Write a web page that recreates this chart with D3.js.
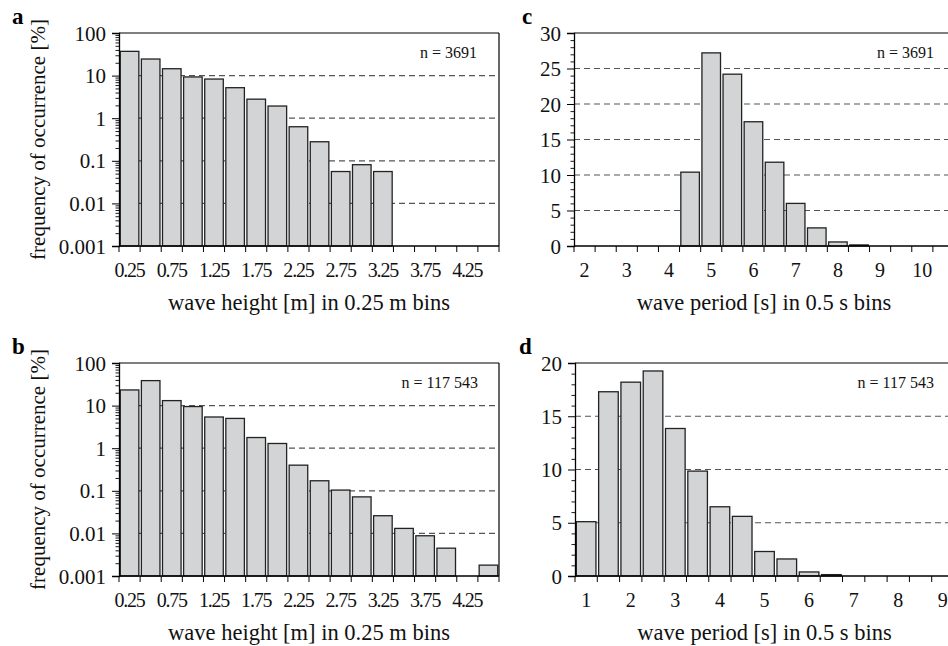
<!DOCTYPE html>
<html>
<head>
<meta charset="utf-8">
<script src="https://cdn.jsdelivr.net/npm/d3@7"></script>
<style>
  body { margin: 0; background: #fff; }
  text { font-family: "Liberation Serif", "DejaVu Serif", serif; }
</style>
</head>
<body>
<div id="chart"></div>
<script>
// wave height bins (0.25 m) and period bins (0.5 s)
const heightBins = ["0.25", "0.5", "0.75", "1", "1.25", "1.5", "1.75", "2", "2.25", "2.5",
  "2.75", "3", "3.25", "3.5", "3.75", "4", "4.25", "4.5"];
const heightLabels = ["0.25", "0.75", "1.25", "1.75", "2.25", "2.75", "3.25", "3.75", "4.25"];
const freqA = [37.1, 24.5, 14.5, 9.3, 8.3, 5.2, 2.8, 1.93, 0.63, 0.28, 0.056, 0.081, 0.056, 0, 0, 0, 0, 0];
const freqB = [23.3, 38.6, 13.1, 9.5, 5.4, 5.0, 1.78, 1.29, 0.4, 0.172, 0.104, 0.072, 0.026, 0.0131, 0.0088, 0.0045, 0, 0.0018];

const periodBinsC = ["2", "2.5", "3", "3.5", "4", "4.5", "5", "5.5", "6", "6.5", "7", "7.5",
  "8", "8.5", "9", "9.5", "10", "10.5"];
const periodLabelsC = ["2", "3", "4", "5", "6", "7", "8", "9", "10"];
const freqC = [0, 0, 0, 0, 0, 10.4, 27.2, 24.2, 17.5, 11.8, 6.0, 2.55, 0.57, 0.15, 0, 0, 0, 0];

const periodBinsD = ["1", "1.5", "2", "2.5", "3", "3.5", "4", "4.5", "5", "5.5", "6", "6.5",
  "7", "7.5", "8", "8.5", "9"];
const periodLabelsD = ["1", "2", "3", "4", "5", "6", "7", "8", "9"];
const freqD = [5.1, 17.3, 18.2, 19.25, 13.85, 9.85, 6.5, 5.6, 2.3, 1.6, 0.38, 0.13, 0, 0, 0, 0, 0];

const FONT = "'Liberation Serif', 'DejaVu Serif', serif";
const w = 948;
const h = 646;
const svg = d3.select("#chart").append("svg").attr("width", w).attr("height", h);

const logTicks = [0.001, 0.01, 0.1, 1, 10, 100];
const logMinor = [];
[0.001, 0.01, 0.1, 1, 10].forEach((d) => {
  for (let k = 2; k <= 9; k++) logMinor.push(d * k);
});

function panel(o) {
  const g = svg.append("g").attr("font-family", FONT);
  const x = d3.scaleBand().domain(o.bins).range([o.x0, o.x1]).paddingInner(0.12).paddingOuter(0.06);
  const edge = d3.scaleLinear().domain([0, o.bins.length]).range([o.x0, o.x1]);
  let y;
  if (o.log) {
    y = d3.scaleLog().domain([0.001, 100]).range([o.y1, o.y0]);
  } else {
    y = d3.scaleLinear().domain([0, o.ymax]).range([o.y1, o.y0]);
  }

  // dashed grid
  g.selectAll(".grid")
    .data(o.grid)
    .enter()
    .append("line")
    .attr("x1", o.x0)
    .attr("x2", o.x1)
    .attr("y1", (d) => y(d))
    .attr("y2", (d) => y(d))
    .attr("stroke", "#555")
    .attr("stroke-width", 1.2)
    .attr("stroke-dasharray", "6,4");

  // bars
  const base = o.log ? 0.001 : 0;
  g.selectAll(".bar")
    .data(o.bins.map((b, i) => ({ b: b, v: o.values[i] })).filter((d) => d.v > 0))
    .enter()
    .append("rect")
    .attr("x", (d) => x(d.b))
    .attr("width", x.bandwidth())
    .attr("y", (d) => y(d.v))
    .attr("height", (d) => y(base) - y(d.v))
    .attr("fill", "#d3d4d6")
    .attr("stroke", "#222")
    .attr("stroke-width", 1.3);

  // frame top + right
  g.append("line").attr("x1", o.x0).attr("x2", o.x1).attr("y1", o.y0).attr("y2", o.y0)
    .attr("stroke", "#000").attr("stroke-width", 1.2);
  g.append("line").attr("x1", o.x1).attr("x2", o.x1).attr("y1", o.y0).attr("y2", o.y1)
    .attr("stroke", "#000").attr("stroke-width", 1.2);

  // y axis
  const yAxis = o.log
    ? d3.axisLeft(y).tickValues(logTicks).tickFormat((d) => String(d)).tickSize(7).tickPadding(6)
    : d3.axisLeft(y).tickValues(d3.range(0, o.ymax + 1, 5)).tickFormat(d3.format("d")).tickSize(7).tickPadding(6);
  const ya = g.append("g").attr("transform", "translate(" + o.x0 + ",0)").call(yAxis);
  ya.attr("font-family", FONT);
  ya.select(".domain").attr("stroke", "#000").attr("stroke-width", 1.3);
  ya.selectAll(".tick line").attr("stroke", "#000").attr("stroke-width", 1);
  ya.selectAll("text").attr("font-size", 21).attr("fill", "#111").attr("dy", "0.34em");

  const minor = o.log ? logMinor : d3.range(0, o.ymax + 1, 1).filter((d) => d % 5 !== 0);
  g.append("g")
    .attr("transform", "translate(" + o.x0 + ",0)")
    .call(d3.axisLeft(y).tickValues(minor).tickSize(3.5).tickFormat(""))
    .call((s) => s.select(".domain").remove())
    .selectAll(".tick line").attr("stroke", "#000").attr("stroke-width", 0.9);

  // x axis: baseline, ticks at bin edges, labels at bin centres
  g.append("line").attr("x1", o.x0).attr("x2", o.x1).attr("y1", o.y1).attr("y2", o.y1)
    .attr("stroke", "#000").attr("stroke-width", 1.3);
  g.selectAll(".xt")
    .data(d3.range(0, o.bins.length + 1))
    .enter()
    .append("line")
    .attr("x1", (d) => edge(d))
    .attr("x2", (d) => edge(d))
    .attr("y1", o.y1)
    .attr("y2", o.y1 + 6)
    .attr("stroke", "#000")
    .attr("stroke-width", 1);
  g.selectAll(".xl")
    .data(o.labels)
    .enter()
    .append("text")
    .attr("x", (d) => x(d) + x.bandwidth() / 2)
    .attr("y", o.y1 + 31)
    .attr("text-anchor", "middle")
    .attr("font-size", 20)
    .attr("letter-spacing", o.tight ? -1.2 : 0)
    .attr("fill", "#111")
    .text((d) => d);

  // x title
  g.append("text")
    .attr("x", (o.x0 + o.x1) / 2)
    .attr("y", o.y1 + 64)
    .attr("text-anchor", "middle")
    .attr("font-size", 22.5)
    .attr("fill", "#111")
    .text(o.xtitle);

  // y title
  if (o.ytitle) {
    g.append("text")
      .attr("transform", "translate(45," + ((o.y0 + o.y1) / 2) + ") rotate(-90)")
      .attr("text-anchor", "middle")
      .attr("font-size", 21)
      .attr("fill", "#111")
      .text(o.ytitle);
  }

  // n label
  g.append("text")
    .attr("x", o.nx)
    .attr("y", o.y0 + 25)
    .attr("text-anchor", "end")
    .attr("font-size", 16)
    .attr("fill", "#111")
    .text(o.n);

  // panel letter
  g.append("text")
    .attr("x", o.lx)
    .attr("y", o.y0 - 9)
    .attr("font-size", 23)
    .attr("font-weight", "bold")
    .attr("fill", "#000")
    .text(o.letter);
}

panel({ letter: "a", lx: 12, x0: 119, x1: 499, y0: 33, y1: 246, log: true, bins: heightBins,
  labels: heightLabels, values: freqA, grid: [10, 1, 0.1, 0.01], tight: true,
  xtitle: "wave height [m] in 0.25 m bins", ytitle: "frequency of occurrence [%]",
  n: "n = 3691", nx: 477 });
panel({ letter: "b", lx: 12, x0: 119, x1: 499, y0: 363, y1: 576, log: true, bins: heightBins,
  labels: heightLabels, values: freqB, grid: [10, 1, 0.1, 0.01], tight: true,
  xtitle: "wave height [m] in 0.25 m bins", ytitle: "frequency of occurrence [%]",
  n: "n = 117 543", nx: 478 });
panel({ letter: "c", lx: 522, x0: 574, x1: 954, y0: 33, y1: 246, log: false, ymax: 30,
  bins: periodBinsC, labels: periodLabelsC, values: freqC, grid: [5, 10, 15, 20, 25],
  xtitle: "wave period [s] in 0.5 s bins", n: "n = 3691", nx: 934 });
panel({ letter: "d", lx: 519, x0: 575, x1: 954, y0: 363, y1: 576, log: false, ymax: 20,
  bins: periodBinsD, labels: periodLabelsD, values: freqD, grid: [5, 10, 15],
  xtitle: "wave period [s] in 0.5 s bins", n: "n = 117 543", nx: 934 });
</script>
</body>
</html>
